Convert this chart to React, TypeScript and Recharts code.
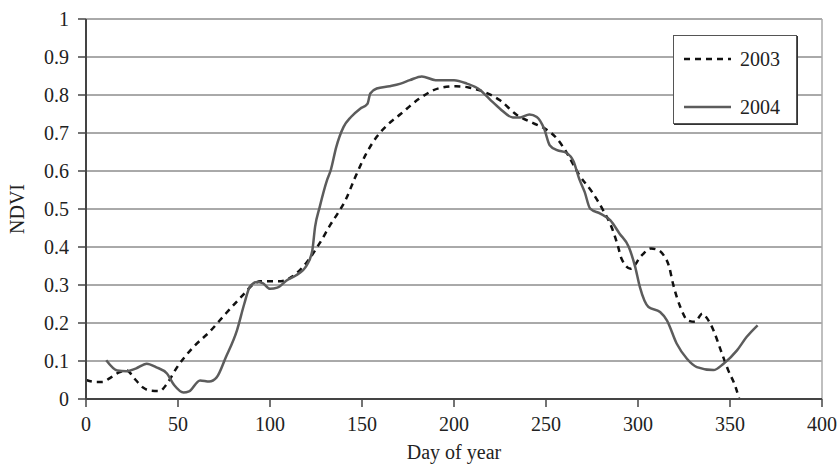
import { LineChart, Line, XAxis, YAxis, CartesianGrid, Legend, ReferenceLine } from "recharts";

const days2003 = [0, 5, 9, 13, 18, 22, 27, 31, 35, 40, 44, 49, 58, 67, 76, 85, 91, 95, 106, 112, 120, 127, 133, 137, 141, 146, 152, 158, 164, 171, 181, 192, 201, 208, 214, 225, 234, 243, 250, 256, 261, 268, 275, 281, 286, 289, 291, 296, 302, 307, 311, 314, 317, 319, 323, 327, 331, 335, 337, 341, 345, 349, 353, 355];
const ndvi2003 = [0.05, 0.045, 0.045, 0.055, 0.07, 0.075, 0.05, 0.03, 0.022, 0.021, 0.04, 0.08, 0.135, 0.176, 0.225, 0.272, 0.302, 0.31, 0.31, 0.322, 0.36, 0.41, 0.46, 0.49, 0.523, 0.58, 0.643, 0.69, 0.722, 0.75, 0.79, 0.818, 0.823, 0.82, 0.812, 0.786, 0.748, 0.726, 0.71, 0.685, 0.65, 0.59, 0.545, 0.497, 0.448, 0.404, 0.37, 0.343, 0.378, 0.396, 0.392, 0.378, 0.347, 0.304, 0.242, 0.207, 0.203, 0.225, 0.216, 0.181, 0.128, 0.076, 0.032, 0.0];

const days2004 = [11, 17, 22, 27, 33, 38, 44, 48, 53, 56, 62, 67, 71, 76, 82, 86, 89, 93, 96, 100, 104, 109, 114, 120, 123, 124.5, 127, 131, 133, 136, 140, 144, 149, 153, 154.5, 158, 165, 171, 176, 182.5, 190, 200, 207, 214, 220, 225, 232, 236, 241, 245, 249, 252, 256, 261, 265, 268, 271, 274, 279.5, 285, 290, 295, 298.5, 301, 305.7, 312, 315.7, 321, 326.6, 332, 341, 346.5, 353.8, 359, 365];
const ndvi2004 = [0.102, 0.075, 0.073, 0.08, 0.093, 0.084, 0.067, 0.036, 0.017, 0.02, 0.049, 0.046, 0.057, 0.11, 0.18, 0.25, 0.295, 0.308, 0.305, 0.29, 0.293, 0.312, 0.325, 0.352, 0.391, 0.453, 0.505, 0.576, 0.602, 0.663, 0.716, 0.742, 0.764, 0.777, 0.804, 0.817, 0.823, 0.83, 0.839, 0.849, 0.839, 0.839, 0.83, 0.814, 0.786, 0.764, 0.741, 0.741, 0.749, 0.742, 0.711, 0.668, 0.655, 0.648, 0.625, 0.58, 0.545, 0.501, 0.488, 0.47, 0.435, 0.4, 0.347, 0.295, 0.242, 0.229, 0.207, 0.146, 0.106, 0.084, 0.076, 0.093, 0.128, 0.163, 0.194];

const xTicks = [0, 50, 100, 150, 200, 250, 300, 350, 400];
const yTicks = [0, 0.1, 0.2, 0.3, 0.4, 0.5, 0.6, 0.7, 0.8, 0.9, 1];

const data2003 = days2003.map((d, i) => ({ day: d, ndvi: ndvi2003[i] }));
const data2004 = days2004.map((d, i) => ({ day: d, ndvi: ndvi2004[i] }));

const font = "'Liberation Serif', 'Times New Roman', serif";
const axisColor = "#444";

function LegendBox({ payload }: any) {
  return (
    <div
      style={{
        width: 124,
        height: 89,
        boxSizing: "border-box",
        border: "1px solid #555",
        boxShadow: "1px 1px 0 #333",
        background: "#fff",
        fontFamily: font,
        fontSize: 20,
        color: "#222",
        position: "relative",
      }}
    >
      {(payload || []).map((p: any, i: number) => (
        <div
          key={p.value}
          style={{ position: "absolute", left: 9, top: i === 0 ? 11 : 59, height: 24, display: "flex", alignItems: "center" }}
        >
          <svg width={50} height={6} style={{ marginRight: 7 }}>
            <line
              x1={1}
              y1={3}
              x2={48}
              y2={3}
              stroke={p.color}
              strokeWidth={p.payload?.strokeWidth ?? 2.5}
              strokeDasharray={p.payload?.strokeDasharray}
            />
          </svg>
          <span>{p.value}</span>
        </div>
      ))}
    </div>
  );
}

export default function App() {
  return (
    <div style={{ position: "absolute", left: 0, top: 0, width: 839, height: 466, background: "#fff" }}>
      <LineChart width={839} height={466} margin={{ top: 19, right: 17, bottom: 3, left: 0 }}>
        <CartesianGrid vertical={false} stroke="#555" strokeWidth={1} />
        <ReferenceLine y={1} stroke="#aaa" strokeWidth={1.5} />
        <ReferenceLine x={400} stroke="#aaa" strokeWidth={1.5} />
        <XAxis
          type="number"
          dataKey="day"
          domain={[0, 400]}
          ticks={xTicks}
          allowDuplicatedCategory={false}
          height={64}
          tickSize={8}
          tickMargin={10}
          axisLine={{ stroke: axisColor, strokeWidth: 2 }}
          tickLine={{ stroke: axisColor, strokeWidth: 1.5 }}
          tick={{ fill: "#222", fontSize: 20, fontFamily: font }}
          label={{ value: "Day of year", position: "insideBottom", offset: 4, fill: "#222", fontSize: 20, fontFamily: font }}
        />
        <YAxis
          type="number"
          domain={[0, 1]}
          ticks={yTicks}
          width={86}
          tickSize={8}
          tickMargin={9}
          axisLine={{ stroke: axisColor, strokeWidth: 2 }}
          tickLine={{ stroke: axisColor, strokeWidth: 1.5 }}
          tick={{ fill: "#222", fontSize: 20, fontFamily: font }}
          label={{
            value: "NDVI",
            angle: -90,
            position: "insideLeft",
            offset: 17,
            fill: "#222",
            fontSize: 20,
            fontFamily: font,
            style: { textAnchor: "middle" },
          }}
        />
        <Legend
          layout="horizontal"
          align="center"
          verticalAlign="middle"
          wrapperStyle={{ position: "absolute", left: 673, top: 35, width: 124, height: 89 }}
          content={<LegendBox />}
        />
        <Line
          data={data2003}
          dataKey="ndvi"
          name="2003"
          type="monotone"
          stroke="#111"
          strokeWidth={2.5}
          strokeDasharray="6 5"
          dot={false}
          isAnimationActive={false}
        />
        <Line
          data={data2004}
          dataKey="ndvi"
          name="2004"
          type="monotone"
          stroke="#5c5c5c"
          strokeWidth={2.5}
          dot={false}
          isAnimationActive={false}
        />
      </LineChart>
    </div>
  );
}
